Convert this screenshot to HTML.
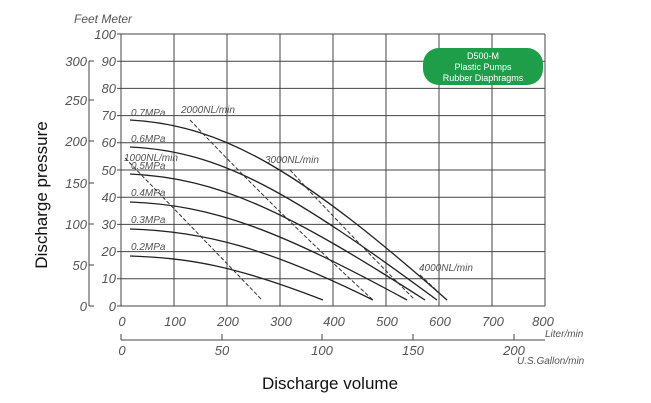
<!DOCTYPE html><html><head><style>body{margin:0;background:#fff}svg{display:block}</style></head><body>
<svg width="651" height="403" xmlns="http://www.w3.org/2000/svg" font-family="Liberation Sans, sans-serif">
<rect width="651" height="403" fill="#fff"/>
<g stroke="#444" stroke-width="1">
<line x1="121" y1="34" x2="121" y2="306"/><line x1="174" y1="34" x2="174" y2="306"/><line x1="227" y1="34" x2="227" y2="306"/><line x1="280" y1="34" x2="280" y2="306"/><line x1="333" y1="34" x2="333" y2="306"/><line x1="386" y1="34" x2="386" y2="306"/><line x1="439" y1="34" x2="439" y2="306"/><line x1="492" y1="34" x2="492" y2="306"/><line x1="545" y1="34" x2="545" y2="306"/>
<line x1="117" y1="34" x2="545" y2="34"/><line x1="117" y1="61.2" x2="545" y2="61.2"/><line x1="117" y1="88.4" x2="545" y2="88.4"/><line x1="117" y1="115.6" x2="545" y2="115.6"/><line x1="117" y1="142.8" x2="545" y2="142.8"/><line x1="117" y1="170" x2="545" y2="170"/><line x1="117" y1="197.2" x2="545" y2="197.2"/><line x1="117" y1="224.4" x2="545" y2="224.4"/><line x1="117" y1="251.6" x2="545" y2="251.6"/><line x1="117" y1="278.8" x2="545" y2="278.8"/><line x1="117" y1="306" x2="545" y2="306"/>
<line x1="89" y1="61" x2="89" y2="306"/>
<line x1="89" y1="61" x2="94" y2="61"/><line x1="89" y1="100" x2="94" y2="100"/><line x1="89" y1="141" x2="94" y2="141"/><line x1="89" y1="183" x2="94" y2="183"/><line x1="89" y1="224" x2="94" y2="224"/><line x1="89" y1="265" x2="94" y2="265"/><line x1="89" y1="306" x2="94" y2="306"/>
<line x1="121" y1="340" x2="545" y2="340"/>
<line x1="121" y1="334" x2="121" y2="340"/><line x1="222" y1="334" x2="222" y2="340"/><line x1="322" y1="334" x2="322" y2="340"/><line x1="413" y1="334" x2="413" y2="340"/><line x1="514" y1="334" x2="514" y2="340"/>
</g>
<g font-style="italic" fill="#555" font-size="13" text-anchor="end">
<text x="116" y="39">100</text><text x="116" y="66">90</text><text x="116" y="93">80</text><text x="116" y="120">70</text><text x="116" y="147">60</text><text x="116" y="175">50</text><text x="116" y="202">40</text><text x="116" y="229">30</text><text x="116" y="256">20</text><text x="116" y="283">10</text><text x="116" y="311">0</text>
<text x="87" y="66">300</text><text x="87" y="105">250</text><text x="87" y="146">200</text><text x="87" y="188">150</text><text x="87" y="229">100</text><text x="87" y="270">50</text><text x="87" y="311">0</text>
</g>
<g font-style="italic" fill="#555" font-size="13" text-anchor="middle">
<text x="122" y="326">0</text><text x="175" y="326">100</text><text x="228" y="326">200</text><text x="281" y="326">300</text><text x="334" y="326">400</text><text x="387" y="326">500</text><text x="440" y="326">600</text><text x="493" y="326">700</text><text x="543" y="326">800</text>
<text x="122" y="355">0</text><text x="222" y="355">50</text><text x="322" y="355">100</text><text x="413" y="355">150</text><text x="514" y="355">200</text>
</g>
<g font-style="italic" fill="#555" font-size="10">
<text x="545" y="337">Liter/min</text><text x="517" y="364">U.S.Gallon/min</text>
<text x="74" y="23" font-size="12">Feet  Meter</text>
<text x="131" y="116">0.7MPa</text><text x="181" y="113">2000NL/min</text><text x="131" y="142">0.6MPa</text><text x="124" y="161">1000NL/min</text><text x="131" y="169">0.5MPa</text><text x="131" y="196">0.4MPa</text><text x="131" y="223">0.3MPa</text><text x="131" y="250">0.2MPa</text><text x="265" y="163">3000NL/min</text><text x="419" y="271">4000NL/min</text>
</g>
<g fill="none" stroke="#222" stroke-width="1.3">
<path d="M130,120 C225,125 304,174 447,300"/>
<path d="M130,147 C221,151 292,193 437,300"/>
<path d="M130,174 C219,178 288,212 425,300"/>
<path d="M130,202 C213,205 278,230 407,300"/>
<path d="M130,229 C203,231 268,248 373,300"/>
<path d="M130,256 C188,258 233,265 323,300"/>
</g>
<g fill="none" stroke="#333" stroke-width="1" stroke-dasharray="4,2">
<path d="M125,158 Q185,220 262,300"/>
<path d="M190,120 Q280,215 373,300"/>
<path d="M290,170 Q350,235 415,300"/>
<path d="M420,275 L447,300"/>
</g>
<rect x="423" y="48" width="120" height="37" rx="16" fill="#1f9e4a"/>
<g fill="#fff" font-size="9" text-anchor="middle"><text x="483" y="59">D500-M</text><text x="483" y="70">Plastic Pumps</text><text x="483" y="81">Rubber Diaphragms</text></g>
<text x="330" y="389" font-size="17" text-anchor="middle" fill="#111">Discharge volume</text>
<text transform="translate(47,195) rotate(-90)" font-size="17" text-anchor="middle" fill="#111">Discharge pressure</text>
</svg></body></html>
